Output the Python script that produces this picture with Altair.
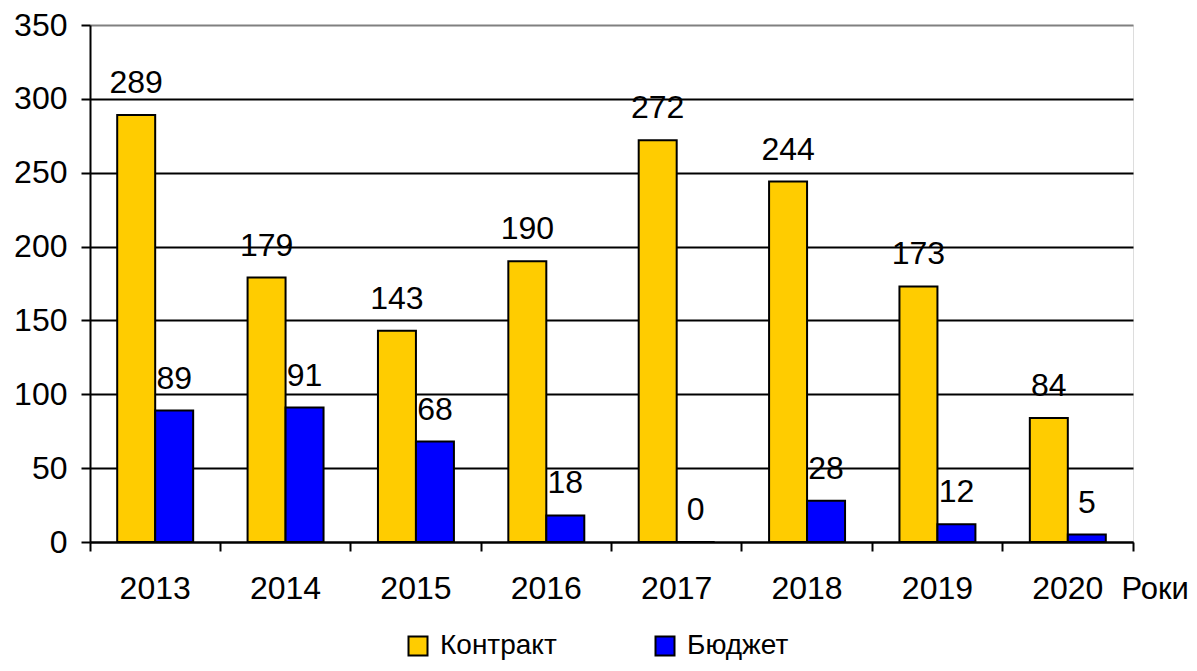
import altair as alt
import pandas as pd

years = ["2013", "2014", "2015", "2016", "2017", "2018", "2019", "2020"]
series_names = ["Контракт", "Бюджет"]
contract = [289, 179, 143, 190, 272, 244, 173, 84]
budget = [89, 91, 68, 18, 0, 28, 12, 5]
y_ticks = [0, 50, 100, 150, 200, 250, 300, 350]
colors = ["#FFCC00", "#0000FF"]

rows = []
for i, y in enumerate(years):
    rows.append({"year": y, "series": series_names[0], "value": contract[i]})
    rows.append({"year": y, "series": series_names[1], "value": budget[i]})
df = pd.DataFrame(rows)

FONT = "Liberation Sans"
FS = 32
W, H = 1043, 517

x_scale = alt.Scale(paddingInner=0, paddingOuter=0)
x_enc = alt.X(
    "year:N",
    sort=years,
    scale=x_scale,
    axis=alt.Axis(
        orient="bottom",
        labelAngle=0,
        labelFontSize=FS,
        labelFont=FONT,
        labelColor="black",
        labelPadding=47,
        labelBaseline="alphabetic",
        domainColor="black",
        domainWidth=2,
        tickColor="black",
        tickWidth=2,
        tickSize=9,
        bandPosition=1,
        tickExtra=True,
        grid=False,
        title="Роки",
        titleFont=FONT,
        titleFontSize=31,
        titleFontWeight="normal",
        titleColor="black",
        titleX=1031,
        titleY=56,
        titleAlign="left",
        titleBaseline="alphabetic",
    ),
)
xoff_enc = alt.XOffset("series:N", sort=series_names,
                       scale=alt.Scale(paddingInner=0, paddingOuter=0.716))
y_enc = alt.Y(
    "value:Q",
    scale=alt.Scale(domain=[0, 350], nice=False),
    axis=alt.Axis(
        values=y_ticks,
        labelFontSize=FS,
        labelFont=FONT,
        labelColor="black",
        labelPadding=14,
        domainColor="black",
        domainWidth=2,
        tickColor="black",
        tickWidth=2,
        tickSize=9,
        grid=True,
        gridColor={"condition": {"test": "datum.value == 350", "value": "#808080"}, "value": "black"},
        gridWidth=2,
        title=None,
    ),
)

base = alt.Chart(df)
bars = base.mark_bar(stroke="black", strokeWidth=2).encode(
    x=x_enc,
    xOffset=xoff_enc,
    y=y_enc,
    color=alt.Color(
        "series:N",
        sort=series_names,
        scale=alt.Scale(domain=series_names, range=colors),
        legend=alt.Legend(
            orient="none",
            legendX=314,
            legendY=607,
            direction="horizontal",
            title=None,
            symbolType="square",
            symbolSize=361,
            symbolStrokeColor="black",
            symbolStrokeWidth=2,
            symbolOpacity=1,
            labelFontSize=28,
            labelFont=FONT,
            labelColor="black",
            labelOffset=8,
            columnPadding=94,
            padding=0,
        ),
    ),
)
labels = base.mark_text(fontSize=FS, font=FONT, color="black",
                        baseline="alphabetic", dy=-22).encode(
    x=alt.X("year:N", sort=years, scale=x_scale),
    xOffset=xoff_enc,
    y=alt.Y("value:Q"),
    text="value:Q",
)

chart = (
    alt.layer(bars, labels)
    .properties(width=W, height=H,
                autosize=alt.AutoSizeParams(type="none"),
                padding={"left": 82, "top": 17, "right": 56, "bottom": 121})
    .configure_view(stroke="#808080", strokeWidth=2)
    .configure(background="white")
)

chart.save("out.html", embed_options={"renderer": "svg", "actions": False})
